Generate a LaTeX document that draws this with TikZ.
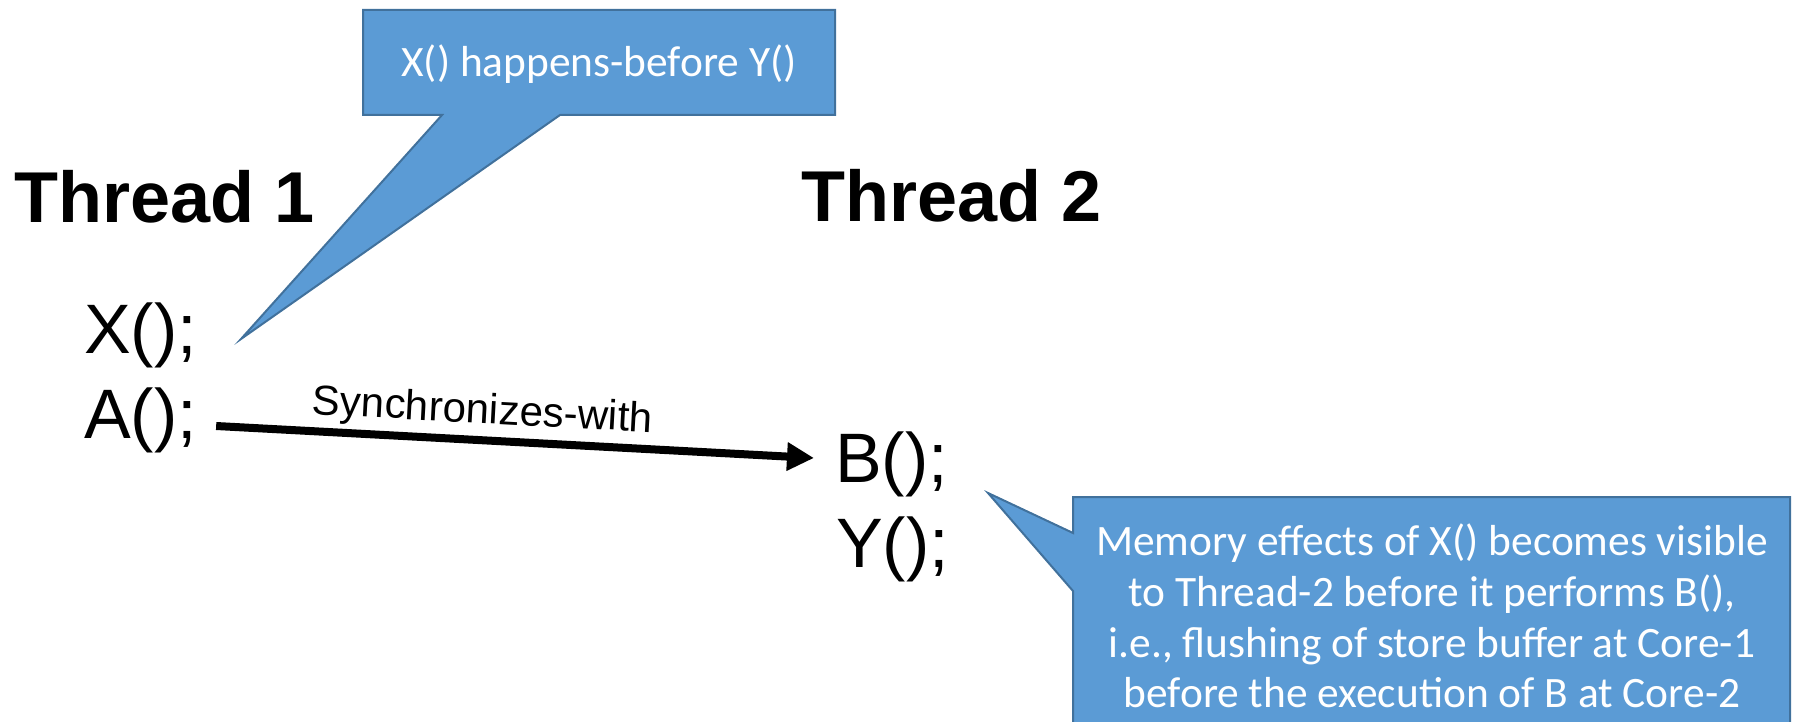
\documentclass[tikz,border=0pt]{standalone}
\usepackage{fontspec}
\setmainfont{Liberation Sans}
\newfontfamily\calloutfont{Carlito}
\usetikzlibrary{arrows.meta}
\definecolor{calloutfill}{HTML}{5B9BD5}
\definecolor{calloutedge}{HTML}{41719C}
\tikzset{
  callout/.style={fill=calloutfill, draw=calloutedge, line width=2pt, line join=miter},
  heading/.style={anchor=base west, inner sep=0pt, font=\bfseries\fontsize{72}{86}\selectfont},
  stmt/.style={anchor=base west, inner sep=0pt, font=\fontsize{70}{84}\selectfont},
  calltext/.style={text=white, inner sep=0pt, align=center, font=\calloutfont\fontsize{43.4}{50.7}\selectfont},
  syncarrow/.style={line width=8pt, -{Triangle[length=27pt, width=27pt]}},
  synclabel/.style={sloped, anchor=base, inner sep=0pt, font=\fontsize{42}{50}\selectfont},
}
\begin{document}
\begin{tikzpicture}[x=1pt, y=-1pt]
  \useasboundingbox (0,0) rectangle (1794,722);
  \clip (0,0) rectangle (1794,722);

  % callout pointing at X()
  \draw[callout] (363,10) -- (835,10) -- (835,115) -- (560,115) -- (241,339)
    -- (442,115) -- (363,115) -- cycle;
  \node[calltext, anchor=base] (hb) at (599,77) {X() happens-before Y()};

  % callout pointing at B()
  \draw[callout] (1073,497) -- (1790,497) -- (1790,740) -- (1073,740) -- (1073,591)
    -- (988,493) -- (1073,533) -- cycle;
  \node[calltext] (mem) at (1432,616) {Memory effects of X() becomes visible\\
    to Thread-2 before it performs B(),\\
    i.e., flushing of store buffer at Core-1\\
    before the execution of B at Core-2};

  % thread headings
  \node[heading] (t1) at (14,223) {Thread 1};
  \node[heading] (t2) at (801,222) {Thread 2};

  % statements
  \node[stmt] (x) at (84,353) {X();};
  \node[stmt] (a) at (84,438) {A();};
  \node[stmt] (b) at (835,482) {B();};
  \node[stmt] (y) at (836,567) {Y();};

  % synchronizes-with edge
  \draw[syncarrow] ([shift={(19,-12)}]a.base east)
    -- node[synclabel, pos=0.443, yshift=17pt] {Synchronizes-with}
    ([shift={(-21,-24)}]b.base west);
\end{tikzpicture}
\end{document}
